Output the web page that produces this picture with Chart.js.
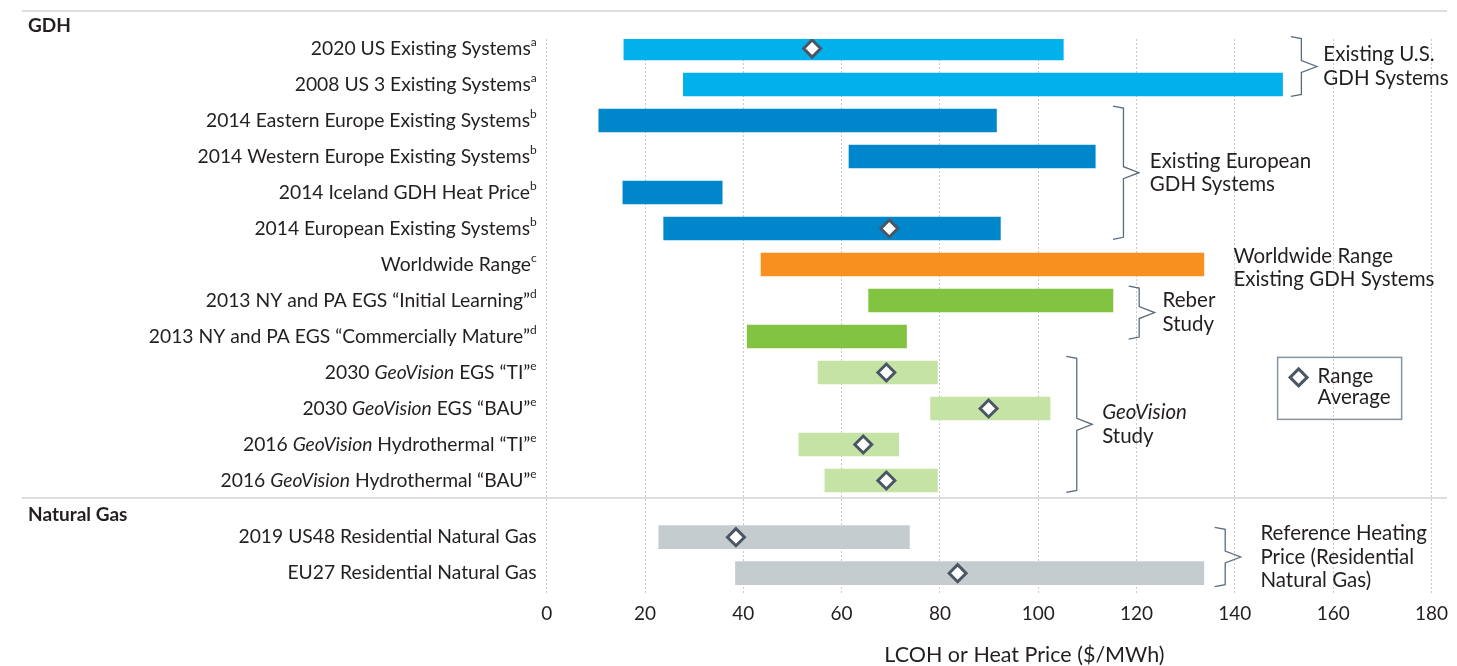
<!DOCTYPE html>
<html>
<head>
<meta charset="utf-8">
<title>LCOH or Heat Price</title>
<script src="https://cdn.jsdelivr.net/npm/chart.js@4.4.1/dist/chart.umd.min.js"></script>
<style>
  html, body { margin: 0; padding: 0; background: #fff; }
  #wrap { width: 1457px; height: 666px; position: relative; }
</style>
</head>
<body>
<div id="wrap"><canvas id="lcohChart"></canvas></div>
<script>
const categories = [
  '2020 US Existing Systems',
  '2008 US 3 Existing Systems',
  '2014 Eastern Europe Existing Systems',
  '2014 Western Europe Existing Systems',
  '2014 Iceland GDH Heat Price',
  '2014 European Existing Systems',
  'Worldwide Range',
  '2013 NY and PA EGS “Initial Learning”',
  '2013 NY and PA EGS “Commercially Mature”',
  '2030 GeoVision EGS “TI”',
  '2030 GeoVision EGS “BAU”',
  '2016 GeoVision Hydrothermal “TI”',
  '2016 GeoVision Hydrothermal “BAU”',
  '2019 US48 Residential Natural Gas',
  'EU27 Residential Natural Gas'
];
const notes = ['a', 'a', 'b', 'b', 'b', 'b', 'c', 'd', 'd', 'e', 'e', 'e', 'e', '', ''];
const sectionNames = ['GDH', 'Natural Gas'];
const sectionOf = [0, 0, 0, 0, 0, 0, 0, 0, 0, 0, 0, 0, 0, 1, 1];
const groups = ['us', 'us', 'europe', 'europe', 'europe', 'europe', 'world', 'reber', 'reber',
  'geovision', 'geovision', 'geovision', 'geovision', 'gas', 'gas'];

// range of LCOH / heat price, $/MWh
const lows = [15.7, 27.8, 10.6, 61.5, 15.5, 23.8, 43.6, 65.5, 40.8, 55.2, 78.1, 51.3, 56.6, 22.8, 38.4];
const highs = [105.1, 149.7, 91.5, 111.6, 35.7, 92.3, 133.7, 115.2, 73.2, 79.5, 102.4, 71.6, 79.5, 73.8, 133.7];
const averages = [54.0, null, null, null, null, 69.7, null, null, null, 69.1, 89.9, 64.4, 69.1, 38.5, 83.6];

const xTicks = [0, 20, 40, 60, 80, 100, 120, 140, 160, 180];

const FONT = 'Lato, "Open Sans", sans-serif';
const TEXT = '#231f20';
const groupColors = {
  us: '#00b1ec',
  europe: '#0087cb',
  world: '#f7901e',
  reber: '#82c341',
  geovision: '#c5e3a5',
  gas: '#c5ccd0'
};

// extra space (in rows) before the Natural Gas block
const GAP = 0.575;
function rowPos(i) {
  return i + sectionOf[i] * GAP;
}

const brackets = [
  { top: -0.33, bottom: 1.33, x: 151.4, textX: 158.0, lines: ['Existing U.S.', 'GDH Systems'] },
  { top: 1.6, bottom: 5.3, x: 115.2, textX: 122.7, lines: ['Existing European', 'GDH Systems'] },
  { top: 6.6, bottom: 8.07, x: 118.4, textX: 125.3, lines: ['Reber', 'Study'] },
  { top: 8.55, bottom: 12.33, x: 105.7, textX: 113.0, lines: ['GeoVision', 'Study'] },
  { top: 13.3, bottom: 14.95, x: 135.9, textX: 145.2, lines: ['Reference Heating', 'Price (Residential', 'Natural Gas)'] }
];

function segmentsFor(text, size, weight) {
  return text.split(/(GeoVision)/).filter(p => p).map(p => ({
    text: p,
    font: (p === 'GeoVision' ? 'italic ' : '') + (weight || 'normal') + ' ' + size + 'px ' + FONT
  }));
}

function drawSegments(ctx, segs, x, y, align) {
  let w = 0;
  segs.forEach(s => { ctx.font = s.font; s.w = ctx.measureText(s.text).width; w += s.w; });
  let cx = align === 'right' ? x - w : (align === 'center' ? x - w / 2 : x);
  ctx.textAlign = 'left';
  ctx.textBaseline = 'middle';
  segs.forEach(s => {
    ctx.font = s.font;
    ctx.fillText(s.text, cx, y + (s.dy || 0));
    cx += s.w;
  });
}

function drawBracket(ctx, x0, top, bottom) {
  const mid = (top + bottom) / 2;
  const x1 = x0 + 10.5;
  const x2 = x0 + 26;
  ctx.beginPath();
  ctx.moveTo(x0, top);
  ctx.lineTo(x1, top + 2);
  ctx.lineTo(x1, mid - 6);
  ctx.lineTo(x2, mid);
  ctx.lineTo(x1, mid + 6);
  ctx.lineTo(x1, bottom - 2);
  ctx.lineTo(x0, bottom);
  ctx.stroke();
}

function drawDiamond(ctx, x, y, r) {
  ctx.beginPath();
  ctx.moveTo(x - r, y);
  ctx.lineTo(x, y - r);
  ctx.lineTo(x + r, y);
  ctx.lineTo(x, y + r);
  ctx.closePath();
  ctx.fillStyle = '#fff';
  ctx.fill();
  ctx.lineWidth = 3;
  ctx.strokeStyle = '#4b5665';
  ctx.stroke();
}

const separators = {
  id: 'separators',
  beforeDatasetsDraw(chart) {
    const ctx = chart.ctx;
    const y = chart.scales.y;
    ctx.save();
    ctx.strokeStyle = '#dedede';
    ctx.lineWidth = 2;
    [-1.04, 12.49].forEach(p => {
      const py = Math.round(y.getPixelForValue(p));
      ctx.beginPath();
      ctx.moveTo(22, py);
      ctx.lineTo(1447, py);
      ctx.stroke();
    });
    ctx.restore();
  }
};

const annotations = {
  id: 'annotations',
  afterDraw(chart) {
    const ctx = chart.ctx;
    const x = chart.scales.x;
    const y = chart.scales.y;
    ctx.save();
    ctx.fillStyle = TEXT;

    // section headers
    sectionNames.forEach((name, s) => {
      const first = sectionOf.indexOf(s);
      drawSegments(ctx, segmentsFor(name, 19, 'bold'), 28, y.getPixelForValue(rowPos(first) - 0.62), 'left');
    });

    // category labels with footnote letters
    categories.forEach((c, i) => {
      const segs = segmentsFor(c, 19.3);
      if (notes[i]) segs.push({ text: notes[i], font: '12px ' + FONT, dy: -6 });
      drawSegments(ctx, segs, x.left - 10, y.getPixelForValue(rowPos(i)), 'right');
    });

    // brackets and group notes
    ctx.strokeStyle = '#5b6b7c';
    ctx.lineWidth = 1.3;
    brackets.forEach(b => {
      const top = y.getPixelForValue(b.top);
      const bottom = y.getPixelForValue(b.bottom);
      drawBracket(ctx, x.getPixelForValue(b.x), top, bottom);
      const mid = (top + bottom) / 2;
      const lh = 23.5;
      b.lines.forEach((line, k) => {
        const ly = mid + (k - (b.lines.length - 1) / 2) * lh;
        drawSegments(ctx, segmentsFor(line, 20.5), x.getPixelForValue(b.textX), ly, 'left');
      });
    });
    ['Worldwide Range', 'Existing GDH Systems'].forEach((line, k) => {
      drawSegments(ctx, segmentsFor(line, 20.5), x.getPixelForValue(139.7),
        y.getPixelForValue(rowPos(6) + 0.1) + (k - 0.5) * 23.5, 'left');
    });

    // legend box
    const lx = x.getPixelForValue(148.7);
    const ly = y.getPixelForValue(8.58);
    ctx.strokeStyle = '#8693a0';
    ctx.lineWidth = 1.5;
    ctx.strokeRect(lx, ly, 124, 62);
    drawDiamond(ctx, lx + 21, ly + 20, 8.5);
    ctx.fillStyle = TEXT;
    drawSegments(ctx, segmentsFor('Range', 20.5), lx + 40, ly + 19, 'left');
    drawSegments(ctx, segmentsFor('Average', 20.5), lx + 40, ly + 40, 'left');

    // axis title
    drawSegments(ctx, segmentsFor('LCOH or Heat Price ($/MWh)', 21.5), x.getPixelForValue(97.2), 655, 'center');
    ctx.restore();
  }
};

const rangeData = categories.map((c, i) => ({ x: [lows[i], highs[i]], y: rowPos(i) }));
const averageData = averages
  .map((v, i) => (v === null ? null : { x: v, y: rowPos(i) }))
  .filter(p => p);

new Chart(document.getElementById('lcohChart'), {
  type: 'bar',
  data: {
    datasets: [
      {
        type: 'scatter',
        label: 'Range Average',
        data: averageData,
        pointStyle: 'rectRot',
        pointRadius: 8.5,
        pointHoverRadius: 8.5,
        borderWidth: 3,
        borderColor: '#4b5665',
        backgroundColor: '#fff',
        order: 0,
        xAxisID: 'x',
        yAxisID: 'y'
      },
      {
        type: 'bar',
        label: 'Range',
        indexAxis: 'y',
        data: rangeData,
        backgroundColor: groups.map(g => groupColors[g]),
        barThickness: 23,
        borderWidth: 0,
        borderSkipped: false,
        order: 1,
        xAxisID: 'x',
        yAxisID: 'y'
      }
    ]
  },
  options: {
    responsive: true,
    maintainAspectRatio: false,
    animation: false,
    layout: { padding: { left: 546.7, right: 22.3, top: 39, bottom: 0 } },
    plugins: {
      legend: { display: false },
      tooltip: { enabled: false }
    },
    scales: {
      x: {
        type: 'linear',
        position: 'bottom',
        offset: false,
        min: 0,
        max: 180,
        afterBuildTicks: (scale) => { scale.ticks = xTicks.map(v => ({ value: v })); },
        ticks: {
          autoSkip: false,
          maxRotation: 0,
          padding: 9,
          color: TEXT,
          font: { family: FONT, size: 19 }
        },
        grid: { color: '#c9c9c9', lineWidth: 1, drawTicks: false, offset: false },
        border: { display: false, dash: [2, 2] },
        afterFit: (scale) => { scale.height = 73; }
      },
      y: {
        type: 'linear',
        reverse: true,
        offset: false,
        min: -0.264,
        max: 15.125,
        grid: { offset: false },
        display: false
      }
    }
  },
  plugins: [separators, annotations]
});
</script>
</body>
</html>
